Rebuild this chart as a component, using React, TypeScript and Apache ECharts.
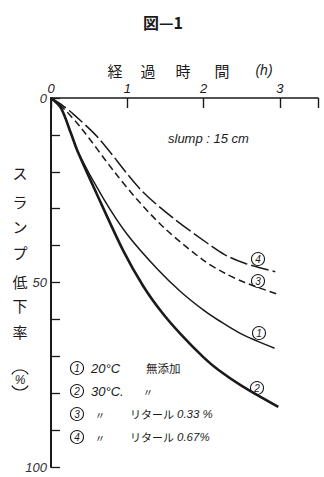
import React, { useEffect, useRef } from "react";
import * as echarts from "echarts";

// Data: elapsed time (h) vs slump loss (%)
const curve1Hours = [0, 0.13, 0.26, 0.35, 0.68, 1.0, 1.4, 1.7, 2.0, 2.2, 2.5, 2.93];
const curve1Drop = [0, 2.7, 9.5, 14.5, 27, 37, 46.5, 52.5, 57.5, 60.3, 64, 67.8];

const curve2Hours = [0, 0.13, 0.26, 0.35, 0.6, 0.95, 1.21, 1.45, 1.7, 2.0, 2.2, 2.5, 2.98];
const curve2Drop = [0, 2.7, 9.5, 14.5, 26, 41.5, 51, 58, 64, 70.3, 73.8, 78, 83.7];

const curve3Hours = [0, 0.15, 0.39, 0.83, 1.15, 1.5, 2.0, 2.28, 2.54, 3.0];
const curve3Drop = [0, 2.5, 8, 20, 28, 35.5, 44, 47.5, 50, 53.4];

const curve4Hours = [0, 0.15, 0.3, 0.62, 1.17, 1.6, 2.06, 2.28, 2.54, 2.94];
const curve4Drop = [0, 2, 4.5, 10.8, 24.7, 32.5, 39.5, 42.5, 44.8, 47.1];

const xTickLabels = ["0", "1", "2", "3"];
const yTickLabels = ["0", "50", "100"];

const title = "図—1";
const xNameChars = ["経", "過", "時", "間", "(h)"];
const yNameChars = ["ス", "ラ", "ン", "プ", "低", "下", "率"];
const slumpNote = "slump : 15 cm";
const legendRows = [
  { n: "1", a: "20°C", b: "無添加", c: "" },
  { n: "2", a: "30°C.", b: "〃", c: "" },
  { n: "3", a: "〃", b: "リタール", c: "0.33 %" },
  { n: "4", a: "〃", b: "リタール", c: "0.67%" },
];

const LATIN = "'Liberation Sans', Arial, sans-serif";
const CJK = "'Noto Sans CJK JP', sans-serif";
const INK = "#1a1a1a";

function zip(h: number[], v: number[]) {
  return h.map((x, i) => [x, v[i]]);
}

function circled(x: number, y: number, n: string, r = 6.5) {
  return {
    type: "group",
    children: [
      { type: "circle", shape: { cx: x, cy: y, r }, style: { fill: "none", stroke: INK, lineWidth: 1.1 } },
      {
        type: "text",
        x,
        y: y + 0.5,
        style: {
          text: n,
          fill: INK,
          font: `italic 10px ${LATIN}`,
          align: "center",
          verticalAlign: "middle",
        },
      },
    ],
  };
}

export default function App() {
  const ref = useRef<HTMLDivElement>(null);
  useEffect(() => {
    if (!ref.current) return;
    const chart = echarts.init(ref.current, undefined, { renderer: "svg" });

    const xNamePos = [115, 148, 183, 222, 264];
    const yNamePos = [172, 201, 226, 252, 281, 305, 331];

    const graphics: any[] = [];
    graphics.push({
      type: "text",
      x: 163,
      y: 22,
      style: { text: title, fill: INK, font: `bold 16px ${CJK}`, align: "center", verticalAlign: "middle" },
    });
    xNameChars.forEach((c, i) => {
      graphics.push({
        type: "text",
        x: xNamePos[i],
        y: 70,
        style: {
          text: c,
          fill: INK,
          font: i === 4 ? `italic 14px ${LATIN}` : `15px ${CJK}`,
          align: "center",
          verticalAlign: "middle",
        },
      });
    });
    yNameChars.forEach((c, i) => {
      graphics.push({
        type: "text",
        x: 20,
        y: yNamePos[i],
        style: { text: c, fill: INK, font: `15px ${CJK}`, align: "center", verticalAlign: "middle" },
      });
    });
    // (%) written vertically: arcs above and below
    graphics.push({
      type: "arc",
      shape: { cx: 20, cy: 380, r: 10, startAngle: -Math.PI + 0.6, endAngle: -0.6 },
      style: { stroke: INK, lineWidth: 1.2, fill: "none" },
    });
    graphics.push({
      type: "arc",
      shape: { cx: 20, cy: 380, r: 10, startAngle: 0.6, endAngle: Math.PI - 0.6 },
      style: { stroke: INK, lineWidth: 1.2, fill: "none" },
    });
    graphics.push({
      type: "text",
      x: 20,
      y: 380,
      style: { text: "%", fill: INK, font: `italic 12px ${LATIN}`, align: "center", verticalAlign: "middle" },
    });
    graphics.push({
      type: "text",
      x: 168,
      y: 138,
      style: { text: slumpNote, fill: INK, font: `italic 13px ${LATIN}`, align: "left", verticalAlign: "middle" },
    });

    // curve end labels
    graphics.push(circled(258, 259, "4"));
    graphics.push(circled(258, 281, "3"));
    graphics.push(circled(259, 333, "1"));
    graphics.push(circled(257, 388, "2"));

    // legend
    const legY = [368, 391, 414, 437];
    legendRows.forEach((row, i) => {
      const y = legY[i];
      graphics.push(circled(77, y, row.n));
      if (i < 2) {
        graphics.push({
          type: "text",
          x: 91,
          y,
          style: { text: row.a, fill: INK, font: `italic 13px ${LATIN}`, align: "left", verticalAlign: "middle" },
        });
        graphics.push({
          type: "text",
          x: i === 0 ? 146 : 143,
          y,
          style: { text: row.b, fill: INK, font: i === 0 ? `11.5px ${CJK}` : `10px ${CJK}`, align: "left", verticalAlign: "middle" },
        });
      } else {
        graphics.push({
          type: "text",
          x: 100,
          y,
          style: { text: row.a, fill: INK, font: `10px ${CJK}`, align: "center", verticalAlign: "middle" },
        });
        graphics.push({
          type: "text",
          x: 130,
          y,
          style: { text: row.b, fill: INK, font: `11px ${CJK}`, align: "left", verticalAlign: "middle" },
        });
        graphics.push({
          type: "text",
          x: 177,
          y,
          style: { text: row.c, fill: INK, font: `italic 11.5px ${LATIN}`, align: "left", verticalAlign: "middle" },
        });
      }
    });

    const lineBase = { type: "line", smooth: 0.3, showSymbol: false, silent: true };

    chart.setOption({
      animation: false,
      backgroundColor: "#ffffff",
      grid: { left: 51, top: 98, width: 267, height: 369, containLabel: false },
      xAxis: {
        type: "value",
        position: "top",
        min: 0,
        max: 3.5,
        interval: 1,
        axisLine: { show: true, lineStyle: { color: INK, width: 1.6 } },
        axisTick: { show: true, inside: true, length: 10, lineStyle: { color: INK, width: 1.4 } },
        axisLabel: {
          show: true,
          margin: 3,
          color: INK,
          fontStyle: "italic",
          fontSize: 13,
          fontFamily: LATIN,
          formatter: (v: number) => (Number.isInteger(v) && v <= 3 ? xTickLabels[v] : ""),
        },
        splitLine: { show: false },
      },
      yAxis: {
        type: "value",
        inverse: true,
        min: 0,
        max: 100,
        interval: 10,
        axisLine: { show: true, lineStyle: { color: INK, width: 2 } },
        axisTick: { show: true, inside: true, length: 9, lineStyle: { color: INK, width: 1.3 } },
        axisLabel: {
          show: true,
          margin: 4,
          color: "#333",
          fontStyle: "italic",
          fontSize: 13,
          fontFamily: LATIN,
          formatter: (v: number) => (v % 50 === 0 ? yTickLabels[v / 50] : ""),
        },
        splitLine: { show: false },
      },
      graphic: graphics,
      series: [
        { ...lineBase, name: "20°C 無添加", data: zip(curve1Hours, curve1Drop), lineStyle: { color: INK, width: 1.5 } },
        { ...lineBase, name: "30°C", data: zip(curve2Hours, curve2Drop), lineStyle: { color: INK, width: 2.6 } },
        {
          ...lineBase,
          name: "リタール 0.33%",
          data: zip(curve3Hours, curve3Drop),
          lineStyle: { color: INK, width: 1.5, type: [7, 4] },
        },
        {
          ...lineBase,
          name: "リタール 0.67%",
          data: zip(curve4Hours, curve4Drop),
          lineStyle: { color: INK, width: 1.5, type: [18, 4] },
        },
      ],
    });
    return () => chart.dispose();
  }, []);
  return (
    <div
      ref={ref}
      style={{ position: "fixed", left: 0, top: 0, width: 324, height: 477, background: "#fff" }}
    />
  );
}
